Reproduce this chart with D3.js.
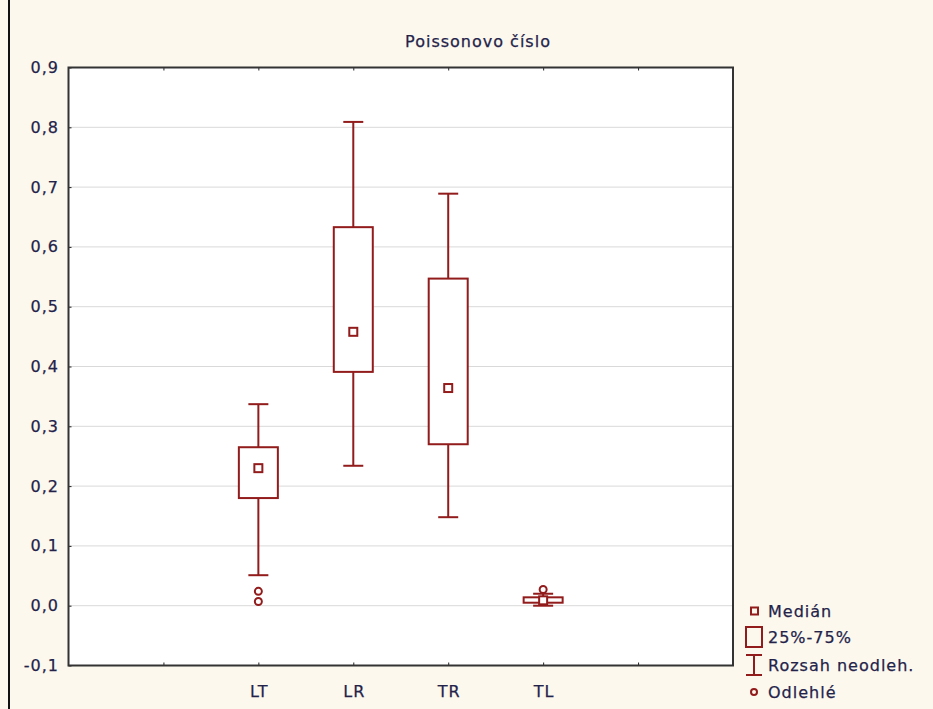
<!DOCTYPE html>
<html>
<head>
<meta charset="utf-8">
<script src="https://cdn.jsdelivr.net/npm/d3@7"></script>
<style>
  body { margin: 0; background: #fdf8ee; }
  svg { display: block; font-family: "DejaVu Sans", Verdana, sans-serif; }
  svg text { letter-spacing: 1px; font-size: 16px; fill: #23234a; stroke: #23234a; stroke-width: 0.25px; }
</style>
</head>
<body>
<svg></svg>
<script>
let width = 933, height = 709;

// data
let categories = ["LT", "LR", "TR", "TL"];
let whiskerLow = [0.051, 0.234, 0.148, 0.0];
let q1 = [0.180, 0.391, 0.270, 0.005];
let median = [0.230, 0.458, 0.364, 0.009];
let q3 = [0.265, 0.633, 0.547, 0.014];
let whiskerHigh = [0.337, 0.809, 0.689, 0.020];
let outliers = [[0.024, 0.007], [], [], [0.027]];
let yTicks = [-0.1, 0, 0.1, 0.2, 0.3, 0.4, 0.5, 0.6, 0.7, 0.8, 0.9];
let legendItems = ["Medián", "25%-75%", "Rozsah neodleh.", "Odlehlé"];

let red = "#921b1b";
let svg = d3.select("svg").attr("width", width).attr("height", height);

svg.append("rect").attr("width", width).attr("height", height).attr("fill", "#fdf8ee");
// window border on the left
svg.append("line").attr("x1", 9).attr("x2", 9).attr("y1", 0).attr("y2", height)
    .attr("stroke", "#111").attr("stroke-width", 2);

let plotL = 68.5, plotR = 733, plotT = 67.5, plotB = 665.5;

let slots = ["_a"].concat(categories).concat(["_b"]);
let x = d3.scalePoint().domain(slots).range([plotL, plotR]).padding(1);
let y = d3.scaleLinear().domain([-0.1, 0.9]).range([plotB, plotT]);

svg.append("rect").attr("x", plotL).attr("y", plotT)
    .attr("width", plotR - plotL).attr("height", plotB - plotT).attr("fill", "#fff");

// gridlines
svg.append("g").selectAll("line").data(yTicks.slice(1, -1)).enter().append("line")
    .attr("x1", plotL).attr("x2", plotR)
    .attr("y1", d => y(d)).attr("y2", d => y(d))
    .attr("stroke", "#d9d9d9").attr("stroke-width", 1);

let fmt = d => d3.format(".1f")(d).replace(".", ",").replace("−", "-");

// y axis (ticks inside)
let yAxis = svg.append("g").attr("transform", "translate(" + plotL + ",0)")
    .call(d3.axisRight(y).tickValues(yTicks).tickSize(3).tickFormat(""));
yAxis.select(".domain").remove();
yAxis.selectAll("line").attr("stroke", "#222");
svg.append("g").selectAll("text").data(yTicks).enter().append("text")
    .attr("x", 59).attr("y", d => y(d) + 5.5)
    .attr("text-anchor", "end")
    .text(fmt);

// x axes (bottom and top, ticks inside)
let xb = svg.append("g").attr("transform", "translate(0," + plotB + ")")
    .call(d3.axisTop(x).tickSize(3).tickFormat(""));
xb.select(".domain").remove();
xb.selectAll("line").attr("stroke", "#222");
let xt = svg.append("g").attr("transform", "translate(0," + plotT + ")")
    .call(d3.axisBottom(x).tickSize(3).tickFormat(""));
xt.select(".domain").remove();
xt.selectAll("line").attr("stroke", "#222");

svg.append("g").selectAll("text").data(categories).enter().append("text")
    .attr("x", d => x(d) + 1).attr("y", 697)
    .attr("text-anchor", "middle")
    .text(d => d);

// frame
svg.append("rect").attr("x", plotL).attr("y", plotT)
    .attr("width", plotR - plotL).attr("height", plotB - plotT)
    .attr("fill", "none").attr("stroke", "#333").attr("stroke-width", 2);

// title
svg.append("text").attr("x", 478).attr("y", 47)
    .attr("text-anchor", "middle")
    .text("Poissonovo číslo");

// boxes
let boxW = 39, capW = 20;
let g = svg.append("g").attr("stroke", red).attr("stroke-width", 2).attr("fill", "none");
categories.forEach((c, i) => {
    let cx = x(c);
    g.append("line").attr("x1", cx).attr("x2", cx).attr("y1", y(q3[i])).attr("y2", y(whiskerHigh[i]));
    g.append("line").attr("x1", cx).attr("x2", cx).attr("y1", y(q1[i])).attr("y2", y(whiskerLow[i]));
    g.append("line").attr("x1", cx - capW / 2).attr("x2", cx + capW / 2)
        .attr("y1", y(whiskerHigh[i])).attr("y2", y(whiskerHigh[i]));
    g.append("line").attr("x1", cx - capW / 2).attr("x2", cx + capW / 2)
        .attr("y1", y(whiskerLow[i])).attr("y2", y(whiskerLow[i]));
    g.append("rect").attr("x", cx - boxW / 2).attr("y", y(q3[i]))
        .attr("width", boxW).attr("height", y(q1[i]) - y(q3[i])).attr("fill", "#fff");
    g.append("rect").attr("x", cx - 4).attr("y", y(median[i]) - 4)
        .attr("width", 8).attr("height", 8).attr("fill", "#fff");
    outliers[i].forEach(o => {
        g.append("circle").attr("cx", cx).attr("cy", y(o)).attr("r", 3.5);
    });
});

// legend
let lg = svg.append("g");
let ly = [611, 637, 665, 692];
lg.selectAll("text").data(legendItems).enter().append("text")
    .attr("x", 768).attr("y", (d, i) => ly[i] + 6)
    .text(d => d);
let ls = lg.append("g").attr("stroke", red).attr("stroke-width", 2).attr("fill", "none");
ls.append("rect").attr("x", 751).attr("y", ly[0] - 3.5).attr("width", 7).attr("height", 7);
ls.append("rect").attr("x", 746).attr("y", ly[1] - 10).attr("width", 16).attr("height", 20);
ls.append("line").attr("x1", 754).attr("x2", 754).attr("y1", ly[2] - 10).attr("y2", ly[2] + 10);
ls.append("line").attr("x1", 746).attr("x2", 762).attr("y1", ly[2] - 10).attr("y2", ly[2] - 10);
ls.append("line").attr("x1", 746).attr("x2", 762).attr("y1", ly[2] + 10).attr("y2", ly[2] + 10);
ls.append("circle").attr("cx", 754).attr("cy", ly[3]).attr("r", 3);
</script>
</body>
</html>
